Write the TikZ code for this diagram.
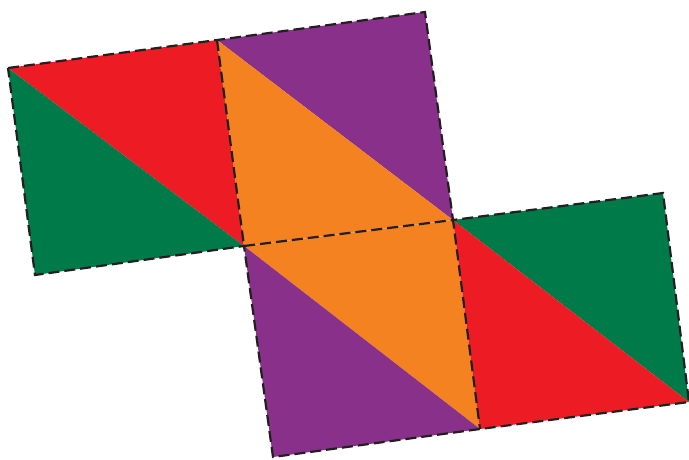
\documentclass[tikz,border=0pt]{standalone}
\definecolor{cred}{HTML}{ED1C24}
\definecolor{cgreen}{HTML}{007A48}
\definecolor{cpurple}{HTML}{88308A}
\definecolor{corange}{HTML}{F58220}
\definecolor{cedge}{HTML}{231F20}
\begin{document}
\begin{tikzpicture}[x=1pt,y=-1pt,
  edge/.style={draw=cedge,line width=2.2pt,dash pattern=on 11pt off 5pt}]
\useasboundingbox (0,0) rectangle (689,459);
\coordinate (A) at (8,68);
\coordinate (B) at (217,40);
\coordinate (C) at (425,12);
\coordinate (D) at (35,275);
\coordinate (E) at (244,246);
\coordinate (F) at (453,220);
\coordinate (G) at (663,193);
\coordinate (H) at (273,457);
\coordinate (I) at (480,429);
\coordinate (J) at (689,402);
% triangles
\fill[cred] (A) -- (B) -- (E) -- cycle;
\fill[cgreen] (A) -- (E) -- (D) -- cycle;
\fill[cpurple] (B) -- (C) -- (F) -- cycle;
\fill[corange] (B) -- (F) -- (E) -- cycle;
\fill[corange] (E) -- (F) -- (I) -- cycle;
\fill[cpurple] (E) -- (I) -- (H) -- cycle;
\fill[cgreen] (F) -- (G) -- (J) -- cycle;
\fill[cred] (F) -- (J) -- (I) -- cycle;
% edges
\draw[edge] (A) -- (B) -- (C) -- (F) -- (G) -- (J) -- (I) -- (H) -- (E) -- (D) -- cycle;
\draw[edge] (B) -- (E) -- (F) -- (I);
\end{tikzpicture}
\end{document}
